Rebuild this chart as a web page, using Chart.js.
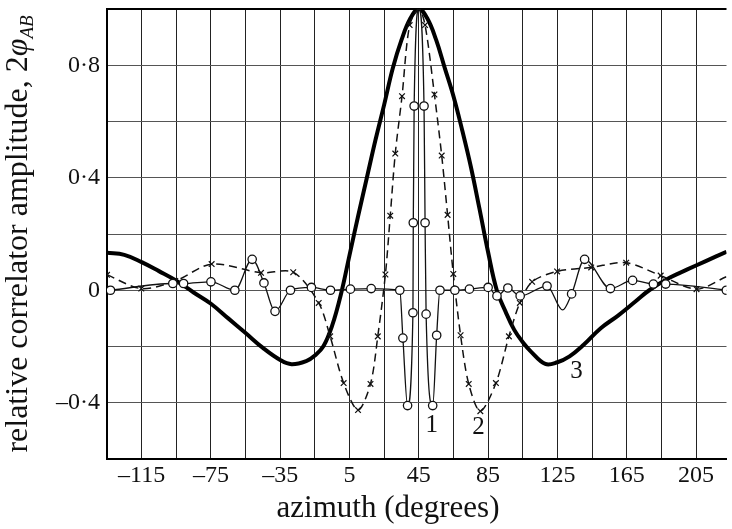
<!DOCTYPE html>
<html>
<head>
<meta charset="utf-8">
<script src="https://cdn.jsdelivr.net/npm/chart.js@4.4.1/dist/chart.umd.min.js"></script>
<style>
  html, body { margin: 0; padding: 0; background: #fff; }
  #wrap { width: 732px; height: 529px; }
</style>
</head>
<body>
<div id="wrap"><canvas id="myChart" width="732" height="529"></canvas></div>
<script>
// curve 1: open circles, thin solid line
const az1 = [-133, -97, -90.8, -75, -61.2, -51.2, -44.4, -38, -29.1, -17, -6, 5.5, 17.5, 34, 35.8, 38.5, 41.6, 41.8, 42.3, 45,
             48, 48.6, 49.2, 53, 55.3, 57.2, 65.8, 74.2, 85, 90.1, 96.4, 103.5, 119, 128, 133.2, 140.7, 155.6, 168.4, 180.4, 187.5, 222.5];
const amp1 = [0, 0.024, 0.024, 0.03, 0, 0.11, 0.026, -0.075, 0, 0.01, 0, 0.004, 0.006, 0, -0.17, -0.41, -0.08, 0.24, 0.655, 1.0,
              0.655, 0.24, -0.085, -0.41, -0.16, 0, 0, 0.004, 0.01, -0.02, 0.008, -0.02, 0.015, -0.07, -0.013, 0.11, 0.006, 0.035, 0.022, 0.022, 0];

// curve 2: crosses, dashed line
const az2 = [-135, -115.2, -95.6, -74.6, -46.1, -27.5, -12.8, -6.2, 1.6, 9.9, 17.1, 21.3, 25.7, 28.5, 31.4, 35.3, 39.7, 45,
             48.6, 54, 58.2, 61.6, 64.9, 69.1, 73.8, 80.5, 89.5, 97, 103.3, 110.4, 124.8, 144.5, 164.7, 184.6, 205.3, 222.5];
const amp2 = [0.055, 0.006, 0.033, 0.093, 0.062, 0.064, -0.045, -0.164, -0.33, -0.426, -0.333, -0.164, 0.056, 0.265, 0.486, 0.69, 0.943, 1.0,
              0.943, 0.696, 0.479, 0.268, 0.058, -0.16, -0.333, -0.43, -0.33, -0.164, -0.045, 0.03, 0.067, 0.081, 0.098, 0.052, 0.004, 0.048];

// curve 3: heavy solid line, no markers
const az3 = [-135, -125, -115, -105, -95, -85, -75, -65, -55, -45, -35, -28.5, -20, -15, -10, -5, 0, 5, 10, 15, 20, 25, 30, 35, 40, 45,
             50, 55, 60, 65, 70, 75, 80, 85, 90, 95, 100, 105, 110, 118, 125, 132, 140, 150, 160, 170, 178, 190, 200, 210, 222.6];
const amp3 = [0.133, 0.126, 0.10, 0.068, 0.034, -0.008, -0.048, -0.10, -0.152, -0.205, -0.248, -0.263, -0.252, -0.232, -0.198, -0.125, -0.015, 0.125, 0.265, 0.40, 0.535, 0.66, 0.79, 0.89, 0.965, 1.0,
              0.965, 0.89, 0.79, 0.69, 0.57, 0.44, 0.29, 0.135, 0, -0.075, -0.14, -0.185, -0.22, -0.262, -0.256, -0.235, -0.195, -0.135, -0.09, -0.04, 0, 0.045, 0.074, 0.102, 0.137];

// azimuths the lines pass through without a marker
const bare1 = [45, 128];
const bare2 = [45, 222.5];

const azMin = -135, azMax = 222.6;
const ampMin = -0.6, ampMax = 1.0;
const azGrid = [-135, -115, -95, -75, -55, -35, -15, 5, 25, 45, 65, 85, 105, 125, 145, 165, 185, 205];
const azLabelled = [-115, -75, -35, 5, 45, 85, 125, 165, 205];
const ampGrid = [-0.6, -0.4, -0.2, 0, 0.2, 0.4, 0.6, 0.8, 1.0];
const ampLabelled = [0.8, 0.4, 0, -0.4];

// curve numbers written beside the lower lobes
const curveTags = [
  { text: '1', az: 52.4, amp: -0.482 },
  { text: '2', az: 79.4, amp: -0.489 },
  { text: '3', az: 136, amp: -0.29 }
];

const serif = '"Liberation Serif", "Times New Roman", serif';
const ink = '#111';

function pts(xs, ys) {
  return xs.map((x, i) => ({ x: x, y: ys[i] }));
}
function fmtAmp(v) {
  if (v === 0) return '0';
  return (v < 0 ? '\u2013' : '') + Math.abs(v).toFixed(1).replace('.', '\u00b7');
}
function fmtAz(v) {
  return (v < 0 ? '\u2013' : '') + Math.abs(v);
}
function markRadius(bare, r) {
  return ctx => (ctx.raw && bare.includes(ctx.raw.x)) ? 0 : r;
}

const axisText = {
  id: 'axisText',
  afterDraw(chart) {
    const c = chart.ctx;
    const area = chart.chartArea;
    const xs = chart.scales.x, ys = chart.scales.y;
    c.save();
    c.fillStyle = ink;

    // x title
    c.font = '31px ' + serif;
    c.textAlign = 'center';
    c.textBaseline = 'alphabetic';
    c.fillText('azimuth (degrees)', 388, 517);

    // y title: upright text, italic phi, subscript AB
    const main = 'relative correlator amplitude, 2';
    c.font = '32px ' + serif;
    const w1 = c.measureText(main).width;
    c.font = 'italic 32px ' + serif;
    const w2 = c.measureText('\u03c6').width;
    c.font = 'italic 19px ' + serif;
    const w3 = c.measureText('AB').width;
    const total = w1 + w2 + w3;
    c.translate(27, (area.top + area.bottom) / 2);
    c.rotate(-Math.PI / 2);
    c.textAlign = 'left';
    let x = -total / 2;
    c.font = '32px ' + serif;
    c.fillText(main, x, 0);
    x += w1;
    c.font = 'italic 32px ' + serif;
    c.fillText('\u03c6', x, 0);
    x += w2;
    c.font = 'italic 19px ' + serif;
    c.fillText('AB', x, 6);
    c.setTransform(1, 0, 0, 1, 0, 0);

    // curve numbers
    c.font = '25px ' + serif;
    c.textAlign = 'center';
    c.textBaseline = 'middle';
    curveTags.forEach(t => {
      c.fillText(t.text, xs.getPixelForValue(t.az), ys.getPixelForValue(t.amp));
    });
    c.restore();
  }
};

new Chart(document.getElementById('myChart').getContext('2d'), {
  type: 'scatter',
  data: {
    datasets: [
      {
        label: '1',
        data: pts(az1, amp1),
        showLine: true,
        borderColor: ink,
        borderWidth: 1.3,
        cubicInterpolationMode: 'monotone',
        pointStyle: 'circle',
        pointRadius: markRadius(bare1, 4.2),
        pointBackgroundColor: '#fff',
        pointBorderColor: ink,
        pointBorderWidth: 1.3,
        order: 1
      },
      {
        label: '2',
        data: pts(az2, amp2),
        showLine: true,
        borderColor: ink,
        borderWidth: 1.5,
        borderDash: [8, 5],
        tension: 0.3,
        pointStyle: 'crossRot',
        pointRadius: markRadius(bare2, 4),
        pointBorderColor: ink,
        pointBorderWidth: 1.2,
        order: 2
      },
      {
        label: '3',
        data: pts(az3, amp3),
        showLine: true,
        borderColor: '#000',
        borderWidth: 4,
        tension: 0.4,
        pointRadius: 0,
        order: 3
      }
    ]
  },
  options: {
    responsive: false,
    animation: false,
    devicePixelRatio: 1,
    layout: { padding: { top: 9, right: 1, left: 0, bottom: 0 } },
    plugins: { legend: { display: false }, tooltip: { enabled: false } },
    scales: {
      x: {
        type: 'linear',
        min: azMin,
        max: azMax,
        afterBuildTicks: s => { s.ticks = azGrid.map(v => ({ value: v })); },
        afterFit: s => { s.height = 70; s.paddingLeft = 0; s.paddingRight = 0; },
        ticks: {
          autoSkip: false,
          maxRotation: 0,
          padding: 2,
          color: ink,
          font: { family: serif, size: 24 },
          callback: v => azLabelled.includes(v) ? fmtAz(v) : ''
        },
        grid: { color: '#222', lineWidth: 1, drawTicks: false },
        border: { color: '#000', width: 2 }
      },
      y: {
        type: 'linear',
        min: ampMin,
        max: ampMax,
        afterBuildTicks: s => { s.ticks = ampGrid.map(v => ({ value: v })); },
        afterFit: s => { s.width = 107; s.paddingTop = 0; s.paddingBottom = 0; },
        ticks: {
          autoSkip: false,
          padding: 7,
          color: ink,
          font: { family: serif, size: 24 },
          callback: v => ampLabelled.includes(v) ? fmtAmp(v) : ''
        },
        grid: {
          color: ctx => (ctx.tick && ctx.tick.value === ampMax) ? '#000' : '#555',
          lineWidth: ctx => (ctx.tick && ctx.tick.value === ampMax) ? 2 : 1,
          drawTicks: false
        },
        border: { color: '#000', width: 2 }
      }
    }
  },
  plugins: [axisText]
});
</script>
</body>
</html>
